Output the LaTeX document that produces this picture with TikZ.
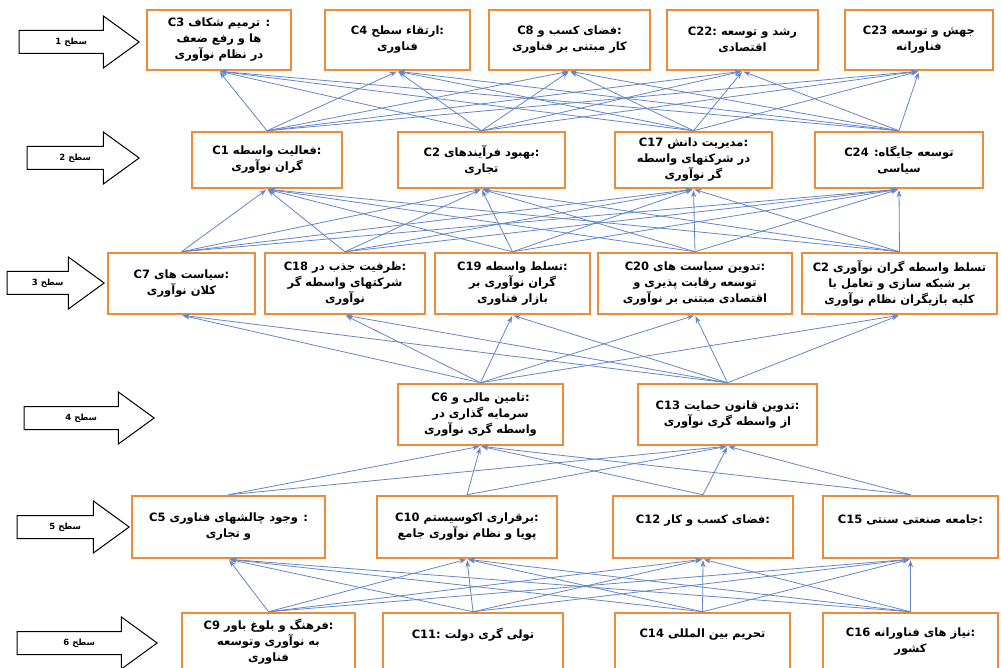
\documentclass[tikz,border=0pt]{standalone}
\usepackage{fontspec}
\usepackage{tikz}
\usetikzlibrary{positioning}
\usetikzlibrary{shapes.arrows}
\usetikzlibrary{arrows.meta}
\TeXXeTstate=1
\newfontfamily\arabicfont[Script=Arabic]{DejaVu Sans}
\definecolor{boxorange}{RGB}{237,139,58}
\definecolor{linkblue}{RGB}{98,134,200}
\newcommand{\rtline}[1]{\beginR#1\endR}
\newcommand{\cid}[1]{\beginL#1\endL}
\tikzstyle{critbox} = [draw=boxorange, line width=2.5pt, fill=white, align=center, inner sep=2pt, font=\arabicfont\bfseries\fontsize{11.5}{16}\selectfont]
\tikzstyle{highline} = [text depth=16pt]
\tikzstyle{levelarrow} = [draw, line width=1pt, fill=white, single arrow, single arrow head extend=14.5pt, single arrow tip angle=72, text height=7pt, text depth=2pt, inner ysep=6.5pt, anchor=tip, font=\arabicfont\bfseries\fontsize{8.5}{10}\selectfont]
\tikzstyle{link} = [draw=linkblue, line width=0.8pt, shorten >=1pt, -{Stealth[length=7pt,width=5pt]}]

\begin{document}
\begin{tikzpicture}[x=1pt, y=-1pt]
    \clip (0,0) rectangle (1001,668);

    % level arrows
    \node[levelarrow, minimum height=120pt] (lvl_1) at (140,42) {\rtline{سطح \cid{1}}};
    \node[levelarrow, minimum height=112pt] (lvl_2) at (140,158) {\rtline{سطح \cid{2}}};
    \node[levelarrow, minimum height=97pt] (lvl_3) at (105,283) {\rtline{سطح \cid{3}}};
    \node[levelarrow, minimum height=130pt] (lvl_4) at (155,418) {\rtline{سطح \cid{4}}};
    \node[levelarrow, minimum height=112pt] (lvl_5) at (130,527) {\rtline{سطح \cid{5}}};
    \node[levelarrow, minimum height=140pt] (lvl_6) at (158,643) {\rtline{سطح \cid{6}}};

    % level 1
    \node[critbox, minimum width=144pt, minimum height=60pt] (l1_c3) at (219,40) {\rtline{: ترمیم شکاف \cid{C3}}\\ \rtline{ها و رفع ضعف}\\ \rtline{در نظام نوآوری}};
    \node[critbox, minimum width=145pt, minimum height=60pt] (l1_c4) at (397.5,40) {\rtline{:ارتقاء سطح \cid{C4}}\\ \rtline{فناوری}};
    \node[critbox, minimum width=161pt, minimum height=60pt] (l1_c8) at (569.5,40) {\rtline{:فضای کسب و \cid{C8}}\\ \rtline{کار مبتنی بر فناوری}};
    \node[critbox, minimum width=151pt, minimum height=60pt] (l1_c22) at (742.5,40) {\rtline{رشد و توسعه :\cid{C22}}\\ \rtline{اقتصادی}};
    \node[critbox, minimum width=148pt, minimum height=60pt] (l1_c23) at (919,40) {\rtline{جهش و توسعه \cid{C23}}\\ \rtline{فناورانه}};

    % level 2
    \node[critbox, minimum width=150pt, minimum height=56pt] (l2_c1) at (267,160) {\rtline{:فعالیت واسطه \cid{C1}}\\ \rtline{گران نوآوری}};
    \node[critbox, minimum width=167pt, minimum height=56pt] (l2_c2) at (481.5,160) {\rtline{:بهبود فرآیندهای \cid{C2}}\\ \rtline{تجاری}};
    \node[critbox, minimum width=157pt, minimum height=56pt] (l2_c17) at (693.5,160) {\rtline{:مدیریت دانش \cid{C17}}\\ \rtline{در شرکتهای واسطه}\\ \rtline{گر نوآوری}};
    \node[critbox, minimum width=168pt, minimum height=56pt] (l2_c24) at (899,160) {\rtline{توسعه جایگاه: \cid{C24}}\\ \rtline{سیاسی}};

    % level 3
    \node[critbox, minimum width=147pt, minimum height=61pt] (l3_c7) at (181.5,283.5) {\rtline{:سیاست های \cid{C7}}\\ \rtline{کلان نوآوری}};
    \node[critbox, minimum width=160pt, minimum height=61pt] (l3_c18) at (345,283.5) {\rtline{:ظرفیت جذب در \cid{C18}}\\ \rtline{شرکتهای واسطه گر}\\ \rtline{نوآوری}};
    \node[critbox, minimum width=155pt, minimum height=61pt] (l3_c19) at (512.5,283.5) {\rtline{:تسلط واسطه \cid{C19}}\\ \rtline{گران نوآوری بر}\\ \rtline{بازار فناوری}};
    \node[critbox, minimum width=194pt, minimum height=61pt] (l3_c20) at (695,283.5) {\rtline{:تدوین سیاست های \cid{C20}}\\ \rtline{توسعه رقابت پذیری و}\\ \rtline{اقتصادی مبتنی بر نوآوری}};
    \node[critbox, minimum width=195pt, minimum height=61pt] (l3_c21) at (899.5,283.5) {\rtline{تسلط واسطه گران نوآوری \cid{C2}}\\ \rtline{بر شبکه سازی و تعامل با}\\ \rtline{کلیه بازیگران نظام نوآوری}};

    % level 4
    \node[critbox, minimum width=165pt, minimum height=61pt] (l4_c6) at (480.5,414.5) {\rtline{:تامین مالی و \cid{C6}}\\ \rtline{سرمایه گذاری در}\\ \rtline{واسطه گری نوآوری}};
    \node[critbox, minimum width=179pt, minimum height=61pt] (l4_c13) at (727.5,414.5) {\rtline{:تدوین قانون حمایت \cid{C13}}\\ \rtline{از واسطه گری نوآوری}};

    % level 5
    \node[critbox, minimum width=193pt, minimum height=62pt] (l5_c5) at (228.5,527) {\rtline{: وجود چالشهای فناوری \cid{C5}}\\ \rtline{و تجاری}};
    \node[critbox, minimum width=180pt, minimum height=62pt] (l5_c10) at (467,527) {\rtline{:برقراری اکوسیستم \cid{C10}}\\ \rtline{پویا و نظام نوآوری جامع}};
    \node[critbox, highline, minimum width=180pt, minimum height=62pt] (l5_c12) at (703,527) {\rtline{:فضای کسب و کار \cid{C12}}};
    \node[critbox, highline, minimum width=175pt, minimum height=62pt] (l5_c15) at (910.5,527) {\rtline{:جامعه صنعتی سنتی \cid{C15}}};

    % level 6
    \node[critbox, minimum width=173pt, minimum height=57pt] (l6_c9) at (268.5,641.5) {\rtline{:فرهنگ و بلوغ باور \cid{C9}}\\ \rtline{به نوآوری وتوسعه}\\ \rtline{فناوری}};
    \node[critbox, highline, minimum width=180pt, minimum height=57pt] (l6_c11) at (473,641.5) {\rtline{تولی گری دولت :\cid{C11}}};
    \node[critbox, highline, minimum width=175pt, minimum height=57pt] (l6_c14) at (702.5,641.5) {\rtline{تحریم بین المللی \cid{C14}}};
    \node[critbox, minimum width=175pt, minimum height=57pt] (l6_c16) at (910.5,641.5) {\rtline{:نیاز های فناورانه \cid{C16}}\\ \rtline{کشور}};

    % links between levels
    \foreach \s in {l2_c1,l2_c2,l2_c17,l2_c24}
        \foreach \t in {l1_c3,l1_c4,l1_c8,l1_c22,l1_c23}
            \draw[link] (\s.north) -- (\t.south);
    \foreach \s in {l3_c7,l3_c18,l3_c19,l3_c20,l3_c21}
        \foreach \t in {l2_c1,l2_c2,l2_c17,l2_c24}
            \draw[link] (\s.north) -- (\t.south);
    \foreach \s in {l4_c6,l4_c13}
        \foreach \t in {l3_c7,l3_c18,l3_c19,l3_c20,l3_c21}
            \draw[link] (\s.north) -- (\t.south);
    \foreach \s in {l5_c5,l5_c10,l5_c12,l5_c15}
        \foreach \t in {l4_c6,l4_c13}
            \draw[link] (\s.north) -- (\t.south);
    \foreach \s in {l6_c9,l6_c11,l6_c14,l6_c16}
        \foreach \t in {l5_c5,l5_c10,l5_c12,l5_c15}
            \draw[link] (\s.north) -- (\t.south);
\end{tikzpicture}
\end{document}
